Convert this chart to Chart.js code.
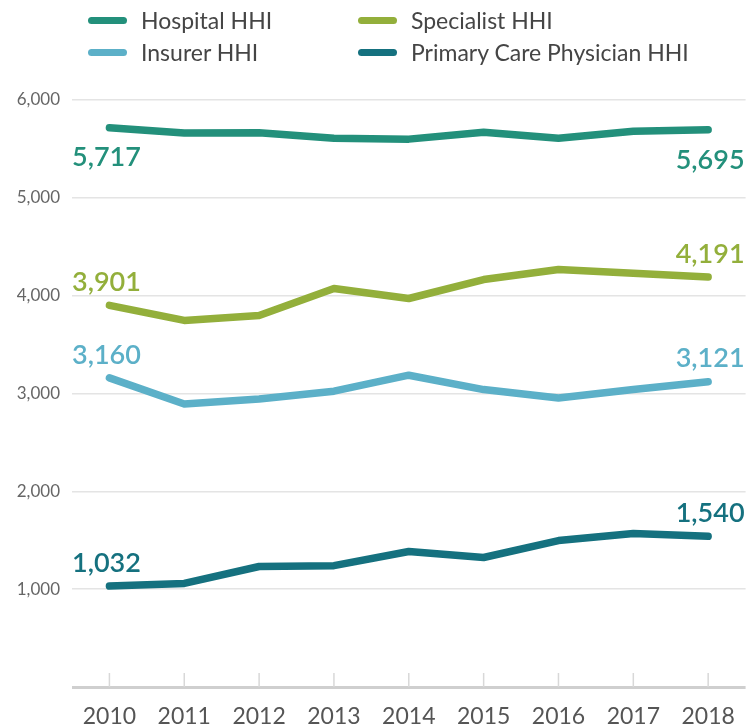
<!DOCTYPE html>
<html>
<head>
<meta charset="utf-8">
<script src="https://cdn.jsdelivr.net/npm/chart.js@4.4.1/dist/chart.umd.min.js"></script>
<style>
  html, body { margin: 0; padding: 0; background: #ffffff; }
  #wrap { position: relative; width: 751px; height: 725px; }
  #legend { position: absolute; left: 0; top: 0; width: 751px; height: 80px; font-family: Lato, "Open Sans", sans-serif; font-size: 23px; color: #454545; }
  .item { position: absolute; display: flex; align-items: center; white-space: nowrap; }
  .sw { width: 39px; height: 7px; border-radius: 4px; margin-right: 14px; }
  canvas { position: absolute; left: 0; top: 0; }
</style>
</head>
<body>
<div id="wrap">
  <canvas id="c" width="751" height="725"></canvas>
  <div id="legend"></div>
</div>
<script>
const years = ['2010','2011','2012','2013','2014','2015','2016','2017','2018'];
const hospitalHHI   = [5717, 5662, 5665, 5610, 5600, 5670, 5610, 5680, 5695];
const specialistHHI = [3901, 3747, 3798, 4073, 3971, 4165, 4267, 4230, 4191];
const insurerHHI    = [3160, 2892, 2943, 3024, 3187, 3040, 2953, 3040, 3121];
const pcpHHI        = [1032, 1059, 1232, 1240, 1385, 1324, 1497, 1568, 1540];
const yTicks = [0, 1000, 2000, 3000, 4000, 5000, 6000];

const seriesNames = ['Hospital HHI', 'Specialist HHI', 'Insurer HHI', 'Primary Care Physician HHI'];
const seriesColors = ['#23907b', '#93af3b', '#5cb0c8', '#15717f'];
const seriesData = [hospitalHHI, specialistHHI, insurerHHI, pcpHHI];
const labelBelow = [true, false, false, false];

// HTML legend (2 x 2 grid)
const legendPos = [[88, 21], [358, 21], [88, 53], [358, 53]];
const legend = document.getElementById('legend');
seriesNames.forEach((n, i) => {
  const d = document.createElement('div');
  d.className = 'item';
  d.style.left = legendPos[i][0] + 'px';
  d.style.top = (legendPos[i][1] - 15) + 'px';
  d.innerHTML = '<span class="sw" style="background:' + seriesColors[i] + '"></span><span>' + n + '</span>';
  legend.appendChild(d);
});

const tickMarks = {
  id: 'tickMarks',
  beforeDatasetsDraw(chart) {
    const { ctx, chartArea } = chart;
    const xs = chart.scales.x;
    ctx.save();
    ctx.strokeStyle = '#d8d8d8';
    ctx.lineWidth = 1.5;
    for (let i = 0; i < years.length; i++) {
      const x = xs.getPixelForTick(i);
      ctx.beginPath();
      ctx.moveTo(x, chartArea.bottom - 14);
      ctx.lineTo(x, chartArea.bottom);
      ctx.stroke();
    }
    ctx.restore();
  }
};

const endLabels = {
  id: 'endLabels',
  afterDatasetsDraw(chart) {
    const { ctx, chartArea } = chart;
    ctx.save();
    ctx.font = '600 27px Lato, "Open Sans", sans-serif';
    ctx.textBaseline = 'middle';
    chart.data.datasets.forEach((ds, di) => {
      const meta = chart.getDatasetMeta(di);
      const first = meta.data[0];
      const last = meta.data[meta.data.length - 1];
      const dy = labelBelow[di] ? 30 : -23;
      ctx.fillStyle = ds.borderColor;
      ctx.textAlign = 'left';
      ctx.fillText(ds.data[0].toLocaleString('en-US'), chartArea.left, first.y + dy);
      ctx.textAlign = 'right';
      ctx.fillText(ds.data[ds.data.length - 1].toLocaleString('en-US'), chartArea.right - 1, last.y + dy);
    });
    ctx.restore();
  }
};

new Chart(document.getElementById('c'), {
  type: 'line',
  data: {
    labels: years,
    datasets: seriesNames.map((n, i) => ({
      label: n,
      data: seriesData[i],
      borderColor: seriesColors[i],
      backgroundColor: seriesColors[i],
      borderWidth: 7.5,
      borderCapStyle: 'round',
      borderJoinStyle: 'round',
      pointRadius: 0,
      tension: 0,
      fill: false
    }))
  },
  options: {
    responsive: false,
    animation: false,
    events: [],
    layout: { padding: { top: 100, right: 3, left: 0, bottom: 0 } },
    plugins: { legend: { display: false }, tooltip: { enabled: false } },
    scales: {
      x: {
        offset: true,
        grid: { display: false, drawTicks: false },
        border: { display: false },
        ticks: { color: '#555555', padding: 16, font: { family: 'Lato, "Open Sans", sans-serif', size: 23 }, maxRotation: 0 },
        afterFit(s) { s.height = 38; }
      },
      y: {
        min: 0,
        max: 6000,
        afterBuildTicks(s) { s.ticks = yTicks.map(v => ({ value: v })); },
        grid: {
          drawTicks: false,
          color: c => (c.tick && c.tick.value === 0) ? '#cfcfcf' : '#e4e4e4',
          lineWidth: c => (c.tick && c.tick.value === 0) ? 3 : 1.5
        },
        border: { display: false },
        ticks: {
          color: '#666666',
          padding: 12,
          font: { family: 'Lato, "Open Sans", sans-serif', size: 17 },
          callback: v => v === 0 ? '' : v.toLocaleString('en-US')
        },
        afterFit(s) { s.width = 72; }
      }
    }
  },
  plugins: [tickMarks, endLabels]
});
</script>
</body>
</html>
